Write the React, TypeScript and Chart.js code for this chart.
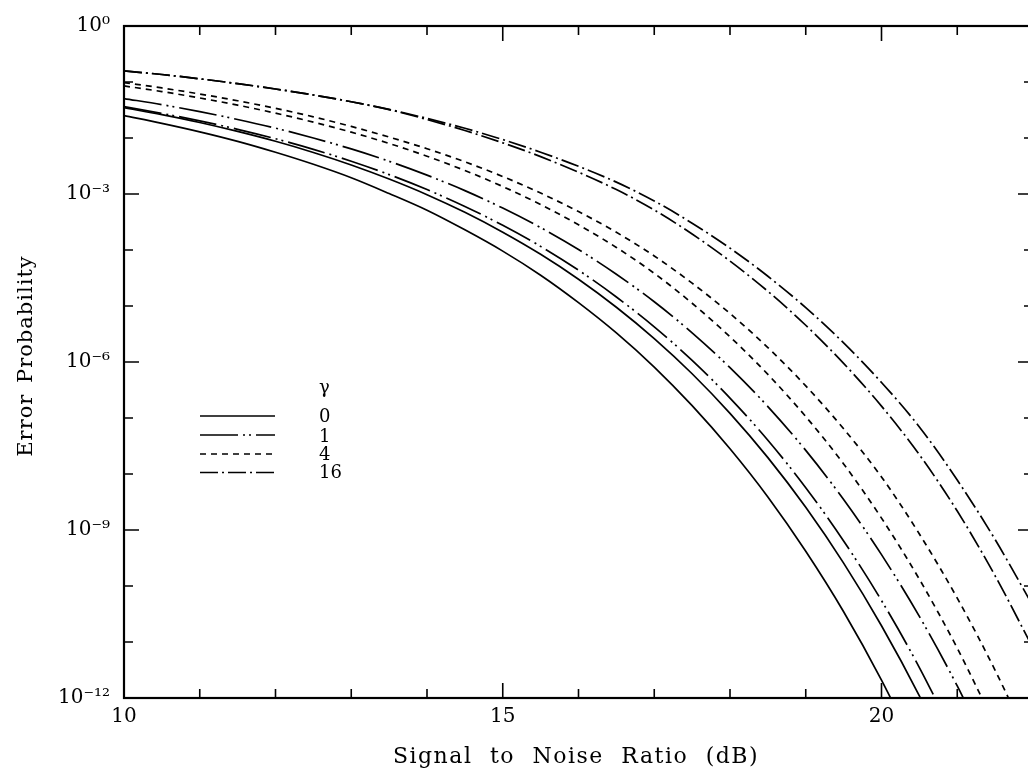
import React, { useEffect, useRef } from "react";
import { Chart, registerables } from "chart.js";

Chart.register(...registerables);

// Signal to noise ratio (dB) sample positions
const snrDb = [10, 10.5, 11, 11.5, 12, 12.5, 13, 13.5, 14, 14.5, 15, 15.5, 16, 16.5, 17, 17.5, 18, 18.5, 19, 19.5, 20, 20.5, 21, 21.5, 22];

// gamma = 0 (solid), two curves
const peG0a = [2.51e-2, 1.83e-2, 1.29e-2, 8.71e-3, 5.56e-3, 3.39e-3, 1.95e-3, 1.02e-3, 5.13e-4, 2.29e-4, 9.55e-5, 3.55e-5, 1.15e-5, 3.31e-6, 8.13e-7, 1.66e-7, 2.82e-8, 3.89e-9, 4.17e-10, 3.47e-11, 2.09e-12, 8.91e-14];
const peG0b = [3.48e-2, 2.61e-2, 1.89e-2, 1.31e-2, 8.73e-3, 5.52e-3, 3.30e-3, 1.85e-3, 9.73e-4, 4.71e-4, 2.08e-4, 8.38e-5, 3.01e-5, 9.51e-6, 2.62e-6, 6.17e-7, 1.21e-7, 1.96e-8, 2.54e-9, 2.56e-10, 1.95e-11, 1.09e-12, 4.27e-14];
// gamma = 1 (dash-dot-dot)
const peG1a = [3.63e-2, 2.75e-2, 2.02e-2, 1.43e-2, 9.70e-3, 6.28e-3, 3.85e-3, 2.22e-3, 1.20e-3, 6.00e-4, 2.76e-4, 1.16e-4, 4.36e-5, 1.45e-5, 4.25e-6, 1.07e-6, 2.27e-7, 4.01e-8, 5.70e-9, 6.38e-10, 5.50e-11, 3.50e-12, 1.58e-13];
const peG1b = [5.07e-2, 3.94e-2, 2.96e-2, 2.14e-2, 1.50e-2, 1.00e-2, 6.38e-3, 3.84e-3, 2.17e-3, 1.15e-3, 5.60e-4, 2.51e-4, 1.02e-4, 3.69e-5, 1.19e-5, 3.32e-6, 7.93e-7, 1.60e-7, 2.64e-8, 3.50e-9, 3.63e-10, 2.86e-11, 1.64e-12, 6.61e-14];
// gamma = 4 (short dashes)
const peG4a = [8.51e-2, 6.75e-2, 5.19e-2, 3.86e-2, 2.78e-2, 1.92e-2, 1.27e-2, 8.00e-3, 4.73e-3, 2.63e-3, 1.36e-3, 6.49e-4, 2.82e-4, 1.11e-4, 3.83e-5, 1.12e-5, 2.82e-6, 6.01e-7, 1.06e-7, 1.51e-8, 1.63e-9, 1.32e-10, 7.76e-12, 3.24e-13];
const peG4b = [9.77e-2, 7.83e-2, 6.11e-2, 4.62e-2, 3.39e-2, 2.39e-2, 1.61e-2, 1.04e-2, 6.44e-3, 3.76e-3, 2.05e-3, 1.04e-3, 4.85e-4, 2.07e-4, 7.82e-5, 2.56e-5, 7.35e-6, 1.81e-6, 3.75e-7, 6.41e-8, 8.85e-9, 8.49e-10, 6.07e-11, 3.12e-12, 1.13e-13];
// gamma = 16 (long dash-dot)
const peG16a = [1.58e-1, 1.36e-1, 1.14e-1, 9.35e-2, 7.50e-2, 5.86e-2, 4.44e-2, 3.21e-2, 2.14e-2, 1.36e-2, 8.20e-3, 4.65e-3, 2.45e-3, 1.20e-3, 5.18e-4, 1.93e-4, 6.34e-5, 1.83e-5, 4.53e-6, 9.44e-7, 1.63e-7, 2.21e-8, 2.18e-9, 1.52e-10, 7.78e-12];
const peG16b = [1.58e-1, 1.36e-1, 1.14e-1, 9.35e-2, 7.50e-2, 5.86e-2, 4.44e-2, 3.24e-2, 2.24e-2, 1.49e-2, 9.38e-3, 5.58e-3, 3.12e-3, 1.63e-3, 7.52e-4, 3.01e-4, 1.08e-4, 3.40e-5, 9.35e-6, 2.19e-6, 4.31e-7, 6.93e-8, 7.80e-9, 6.75e-10, 4.39e-11];

// Axes ticks
const xTickValues = [10, 11, 12, 13, 14, 15, 16, 17, 18, 19, 20, 21, 22];
const xLabelValues = [10, 15, 20];
const xTickLabels = ["10", "15", "20"];
const yTickValues = [1, 1e-1, 1e-2, 1e-3, 1e-4, 1e-5, 1e-6, 1e-7, 1e-8, 1e-9, 1e-10, 1e-11, 1e-12];
const yLabelValues = [1, 1e-3, 1e-6, 1e-9, 1e-12];
const yTickLabels = ["10\u2070", "10\u207B\u00B3", "10\u207B\u2076", "10\u207B\u2079", "10\u207B\u00B9\u00B2"];

// Axis titles
const xTitle = "Signal to Noise Ratio (dB)";
const yTitle = "Error Probability";

// Legend
const legendTitle = "\u03B3";
const legendLabels = ["0", "1", "4", "16"];

const FONT = "'DejaVu Serif', 'Liberation Serif', serif";
const dashG0: number[] = [];
const dashG1 = [38, 5, 2, 4, 2, 5];
const dashG4 = [6, 5];
const dashG16 = [18, 4, 2, 4];
const legendDashes = [dashG0, dashG1, dashG4, dashG16];

const findIdx = (arr: number[], v: number) =>
  arr.findIndex((a) => Math.abs(Math.log10(a) - Math.log10(v)) < 1e-6);

const framePlugin = {
  id: "frameTicks",
  afterDatasetsDraw(chart: any) {
    const { ctx, chartArea, scales } = chart;
    const { left, right, top, bottom } = chartArea;
    const xs = scales.x;
    const ys = scales.y;
    ctx.save();
    ctx.strokeStyle = "#000";
    ctx.setLineDash([]);
    ctx.lineWidth = 1.6;
    ctx.beginPath();
    xTickValues.forEach((v) => {
      const px = xs.getPixelForValue(v);
      const len = xLabelValues.includes(v) ? 15 : 9;
      ctx.moveTo(px, bottom);
      ctx.lineTo(px, bottom - len);
      ctx.moveTo(px, top);
      ctx.lineTo(px, top + len);
    });
    yTickValues.forEach((v) => {
      const py = ys.getPixelForValue(v);
      const len = findIdx(yLabelValues, v) >= 0 ? 15 : 9;
      ctx.moveTo(left, py);
      ctx.lineTo(left + len, py);
      ctx.moveTo(right, py);
      ctx.lineTo(right - len, py);
    });
    ctx.stroke();
    ctx.lineWidth = 2.2;
    ctx.strokeRect(left, top, right - left, bottom - top);
    ctx.restore();
  },
};

const titlesPlugin = {
  id: "axisTitles",
  afterDraw(chart: any) {
    const { ctx, chartArea } = chart;
    ctx.save();
    ctx.fillStyle = "#000";
    ctx.font = `22px ${FONT}`;
    ctx.textAlign = "center";
    ctx.textBaseline = "alphabetic";
    (ctx as any).letterSpacing = "1.5px";
    (ctx as any).wordSpacing = "9px";
    ctx.fillText(xTitle, 576, 763);
    ctx.restore();

    ctx.save();
    ctx.fillStyle = "#000";
    ctx.font = `21px ${FONT}`;
    ctx.textAlign = "center";
    ctx.textBaseline = "alphabetic";
    (ctx as any).letterSpacing = "1px";
    (ctx as any).wordSpacing = "3px";
    ctx.translate(32, (chartArea.top + chartArea.bottom) / 2 - 6);
    ctx.rotate(-Math.PI / 2);
    ctx.fillText(yTitle, 0, 0);
    ctx.restore();
  },
};

const legendPlugin = {
  id: "gammaLegend",
  afterDraw(chart: any) {
    const { ctx } = chart;
    ctx.save();
    ctx.fillStyle = "#000";
    ctx.strokeStyle = "#000";
    ctx.font = `18px ${FONT}`;
    ctx.textAlign = "left";
    ctx.textBaseline = "alphabetic";
    ctx.fillText(legendTitle, 319, 393);
    const lineYs = [416, 435, 454, 472.5];
    const textYs = [422, 441.5, 459.5, 478];
    legendLabels.forEach((lab, i) => {
      ctx.lineWidth = 1.7;
      ctx.setLineDash(legendDashes[i]);
      ctx.beginPath();
      ctx.moveTo(200, lineYs[i]);
      ctx.lineTo(275, lineYs[i]);
      ctx.stroke();
      ctx.setLineDash([]);
      ctx.fillText(lab, 319, textYs[i]);
    });
    ctx.restore();
  },
};

function makeSet(values: number[], dash: number[]) {
  return {
    data: values.map((v, i) => ({ x: snrDb[i], y: v })),
    borderColor: "#000",
    borderWidth: 1.7,
    borderDash: dash,
    pointRadius: 0,
    fill: false,
    cubicInterpolationMode: "monotone" as const,
  };
}

export default function App() {
  const ref = useRef<HTMLCanvasElement | null>(null);

  useEffect(() => {
    if (!ref.current) return;
    const chart = new Chart(ref.current, {
      type: "line",
      data: {
        datasets: [
          makeSet(peG0a, dashG0),
          makeSet(peG0b, dashG0),
          makeSet(peG1a, dashG1),
          makeSet(peG1b, dashG1),
          makeSet(peG4a, dashG4),
          makeSet(peG4b, dashG4),
          makeSet(peG16a, dashG16),
          makeSet(peG16b, dashG16),
        ] as any,
      },
      options: {
        responsive: false,
        animation: false,
        events: [],
        layout: { padding: { top: 21, right: 4, bottom: 0, left: 0 } },
        plugins: {
          legend: { display: false },
          tooltip: { enabled: false },
          title: { display: false },
        },
        scales: {
          x: {
            type: "linear",
            min: 10,
            max: 22,
            offset: false,
            grid: { display: false, drawTicks: false },
            border: { display: false },
            afterBuildTicks: (scale: any) => {
              scale.ticks = xTickValues.map((v) => ({ value: v }));
            },
            afterFit: (scale: any) => {
              scale.height = 76;
            },
            ticks: {
              autoSkip: false,
              maxRotation: 0,
              padding: 7,
              color: "#000",
              font: { family: FONT, size: 20 },
              callback: (v: any) => {
                const i = xLabelValues.indexOf(Number(v));
                return i >= 0 ? xTickLabels[i] : "";
              },
            },
            title: { display: false },
          },
          y: {
            type: "logarithmic",
            min: 1e-12,
            max: 1,
            grid: { display: false, drawTicks: false },
            border: { display: false },
            afterBuildTicks: (scale: any) => {
              scale.ticks = yTickValues.map((v) => ({ value: v }));
            },
            afterFit: (scale: any) => {
              scale.width = 124;
            },
            ticks: {
              autoSkip: false,
              padding: 14,
              color: "#000",
              font: { family: FONT, size: 20 },
              callback: (v: any) => {
                const i = findIdx(yLabelValues, Number(v));
                return i >= 0 ? yTickLabels[i] : "";
              },
            },
            title: { display: false },
          },
        },
      },
      plugins: [framePlugin, titlesPlugin, legendPlugin],
    });
    return () => chart.destroy();
  }, []);

  return (
    <div
      style={{
        position: "fixed",
        left: 0,
        top: 0,
        width: "1028px",
        height: "774px",
        overflow: "hidden",
        background: "#fff",
      }}
    >
      <canvas
        ref={ref}
        width={1040}
        height={774}
        style={{ display: "block", width: "1040px", height: "774px" }}
      />
    </div>
  );
}
